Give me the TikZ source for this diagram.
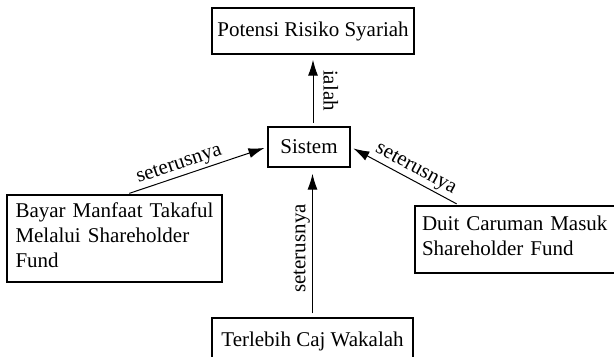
\documentclass[tikz,border=0pt]{standalone}
\usepackage{fontspec}
\setmainfont{Liberation Serif}
\usetikzlibrary{arrows.meta}

\begin{document}
\begin{tikzpicture}[x=.5pt,y=-.5pt,>={Latex[length=8pt,width=5pt]},
    kotak/.style={draw,line width=.7pt,inner xsep=2.5pt,inner ysep=0pt,
      font=\fontsize{10.5}{12.5}\selectfont},
    garis/.style={line width=.5pt,shorten <=1.5pt,shorten >=1.5pt},
    ket/.style={sloped,above,inner sep=1pt,font=\fontsize{10.5}{12.5}\selectfont}]
  \useasboundingbox (0,0) rectangle (614,357);
  \clip (0,0) rectangle (614,357);
  \node[kotak,minimum width=101pt,minimum height=23pt] (potensi) at (313,31) {Potensi Risiko Syariah};
  \node[kotak,minimum width=41pt,minimum height=20pt] (sistem) at (309,147) {Sistem};
  \node[kotak,text width=99pt,align=left,inner xsep=4.25pt,minimum height=43.5pt] (bayar) at (114.5,238.5)
    {Bayar Manfaat Takaful\\Melalui Shareholder\\Fund\strut};
  \node[kotak,text width=95pt,align=left,inner xsep=3.5pt,minimum height=33.5pt] (duit) at (517,239.5)
    {Duit Caruman Masuk\\Shareholder Fund\strut};
  \node[kotak,minimum width=100.5pt,minimum height=23pt] (caj) at (312.5,341) {Terlebih Caj Wakalah};

  \draw[<-,garis,shorten <=2.5pt] (potensi.south) -- node[ket,inner sep=5pt]{ialah} (potensi.south |- sistem.north);
  \draw[->,garis,shorten <=2pt,shorten >=3pt] (caj.north) -- node[ket,pos=.46]{seterusnya} (caj.north |- sistem.south);
  \draw[->,garis] ([xshift=6pt]bayar.north) -- node[ket,pos=.4]{seterusnya} (sistem.west);
  \draw[<-,garis] (sistem.east) -- node[ket,pos=.55]{seterusnya} ([xshift=22.5pt]duit.north west);
\end{tikzpicture}
\end{document}
